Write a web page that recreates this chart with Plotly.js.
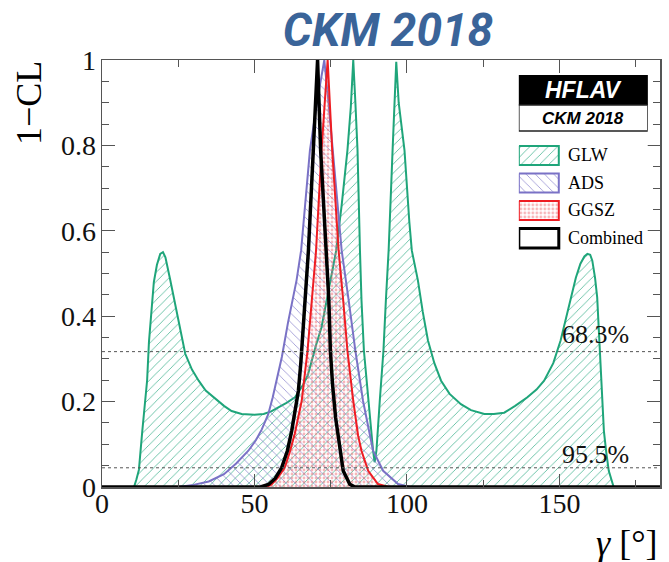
<!DOCTYPE html>
<html>
<head>
<meta charset="utf-8">
<script src="https://cdn.plot.ly/plotly-3.0.1.min.js"></script>
<style>
  html, body { margin: 0; padding: 0; background: #ffffff; }
  #chart { width: 669px; height: 562px; }
</style>
</head>
<body>
<div id="chart"></div>
<script>
// 1-CL profile scans in gamma [deg] for each method and their combination
const gammaGLW = [0, 10.5, 11.3, 12.1, 13.2, 14.3, 14.8, 15.4, 16.2, 17, 18, 19.1, 20, 20.8, 22.4, 24.6, 27.3, 29.5, 31.7, 34, 37.1, 40, 42.5, 45.8, 50, 53, 55.5, 57.8, 60.5, 63.3, 64.4, 66, 67.5, 68.7, 70.3, 72, 73.2, 74.2, 75.5, 76.8, 78.6, 80.5, 81.6, 82.4, 83.1, 83.8, 84.6, 85.1, 85.9, 87.3, 88.9, 89.4, 90, 91.1, 92.3, 93.1, 94, 95.3, 96, 96.5, 97.3, 98.2, 99.2, 100.8, 101.6, 103.6, 105.2, 106.9, 109, 111.2, 114, 117.7, 121, 125.4, 128.5, 131.9, 135.5, 139.5, 142.5, 145, 148, 150.4, 152, 153.7, 155.4, 156.9, 158.2, 159.2, 160.1, 160.8, 161.7, 162.4, 163, 163.5, 164.6, 165.4, 166.2, 167.8, 183];
const clGLW    = [0, 0, 0.018, 0.04, 0.13, 0.21, 0.25, 0.34, 0.42, 0.48, 0.52, 0.546, 0.55, 0.538, 0.484, 0.406, 0.312, 0.275, 0.249, 0.226, 0.207, 0.19, 0.178, 0.171, 0.169, 0.171, 0.177, 0.186, 0.197, 0.21, 0.222, 0.24, 0.262, 0.296, 0.335, 0.374, 0.42, 0.46, 0.505, 0.554, 0.66, 0.789, 0.89, 1.0, 0.9, 0.789, 0.554, 0.437, 0.319, 0.202, 0.085, 0.058, 0.085, 0.202, 0.319, 0.437, 0.554, 0.789, 0.9, 0.996, 0.9, 0.84, 0.789, 0.62, 0.554, 0.484, 0.41, 0.343, 0.29, 0.249, 0.218, 0.194, 0.18, 0.171, 0.171, 0.174, 0.19, 0.21, 0.228, 0.249, 0.29, 0.343, 0.39, 0.444, 0.49, 0.523, 0.54, 0.546, 0.544, 0.53, 0.49, 0.444, 0.36, 0.288, 0.131, 0.08, 0.038, 0, 0];

const gammaADS = [0, 25, 30, 35, 40, 44, 48, 50.5, 52.4, 54.5, 56, 57.5, 59, 61, 63.8, 65.3, 66.8, 68.2, 70.5, 72.9, 74.3, 75.6, 77, 78.6, 80.9, 83.1, 85.6, 87.6, 88.9, 92.2, 97.1, 101, 183];
const clADS    = [0, 0, 0.005, 0.013, 0.03, 0.055, 0.085, 0.11, 0.135, 0.17, 0.21, 0.255, 0.305, 0.385, 0.484, 0.554, 0.67, 0.789, 0.9, 1.0, 0.9, 0.789, 0.67, 0.554, 0.437, 0.319, 0.202, 0.13, 0.085, 0.038, 0.007, 0, 0];

const gammaGGSZ = [0, 54, 55.6, 57.5, 59.9, 61.5, 63.2, 65.5, 67.4, 68.7, 70.2, 72, 74, 75.5, 77.6, 79.1, 80.5, 82.4, 84, 85.1, 87.3, 90.5, 94, 183];
const clGGSZ    = [0, 0, 0.006, 0.02, 0.045, 0.08, 0.124, 0.202, 0.319, 0.437, 0.554, 0.789, 1.0, 0.789, 0.554, 0.437, 0.319, 0.202, 0.12, 0.085, 0.038, 0.007, 0, 0];

const gammaComb = [0, 52, 54.6, 56.8, 58.9, 60.8, 62.2, 63.5, 64.4, 65.2, 66.3, 67.7, 69.3, 70.7, 71.7, 72.6, 73.5, 74.4, 74.9, 75.6, 76.6, 78, 79.1, 81.3, 83, 183];
const clComb    = [0, 0, 0.006, 0.02, 0.045, 0.085, 0.131, 0.19, 0.225, 0.29, 0.4, 0.554, 0.789, 1.0, 0.789, 0.67, 0.554, 0.437, 0.319, 0.241, 0.163, 0.085, 0.038, 0.006, 0, 0];

// confidence levels marked with dotted lines (in percent)
const clLevels = [68.3, 95.5];
const seriesNames = ['GLW', 'ADS', 'GGSZ', 'Combined'];

const serif = 'Liberation Serif, Times New Roman, serif';
const sans = 'Liberation Sans, Arial, sans-serif';

const GREEN = '#1fa57a', PURPLE = '#7a72c6', RED = '#ee1d23', BLACK = '#000000';

const patterns = {
  GLW:  { shape: '/', fgcolor: 'rgba(31,165,122,0.75)', bgcolor: 'rgba(0,0,0,0)', size: 6.5, solidity: 0.13 },
  ADS:  { shape: '\\', fgcolor: 'rgba(122,114,198,0.75)', bgcolor: 'rgba(0,0,0,0)', size: 6.5, solidity: 0.13 },
  GGSZ: { shape: '.', fgcolor: 'rgba(240,110,115,0.5)', bgcolor: 'rgba(0,0,0,0)', size: 4, solidity: 0.4 }
};

function scan(name, x, y, color, width, pattern) {
  const t = {
    type: 'scatter', mode: 'lines', name: name, x: x, y: y,
    line: { color: color, width: width, shape: 'linear' },
    showlegend: false, hoverinfo: 'x+y+name'
  };
  if (pattern) {
    t.fill = 'tozeroy';
    t.fillcolor = 'rgba(0,0,0,0)';
    t.fillpattern = pattern;
  }
  return t;
}

const traces = [
  scan(seriesNames[0], gammaGLW, clGLW, GREEN, 2, patterns.GLW),
  scan(seriesNames[1], gammaADS, clADS, PURPLE, 2, patterns.ADS),
  scan(seriesNames[2], gammaGGSZ, clGGSZ, RED, 2, patterns.GGSZ),
  scan(seriesNames[3], gammaComb, clComb, BLACK, 3.5, null)
];

// legend box drawn in its own small coordinate frame (pixels from its top-left)
const legRows = [
  { name: seriesNames[0], y0: 71, y1: 90, color: GREEN, pattern: patterns.GLW },
  { name: seriesNames[1], y0: 98.5, y1: 117.5, color: PURPLE, pattern: patterns.ADS },
  { name: seriesNames[2], y0: 126, y1: 145, color: RED, pattern: patterns.GGSZ },
  { name: seriesNames[3], y0: 153.5, y1: 173, color: BLACK, pattern: null }
];
const swW = 40;

const shapes = [];
const annotations = [];

legRows.forEach(r => {
  if (r.pattern) {
    traces.push({
      type: 'scatter', mode: 'lines', xaxis: 'x2', yaxis: 'y2',
      x: [0, swW, swW, 0, 0], y: [r.y0, r.y0, r.y1, r.y1, r.y0],
      fill: 'toself', fillcolor: 'rgba(0,0,0,0)', fillpattern: r.pattern,
      line: { color: r.color, width: 2 }, showlegend: false, hoverinfo: 'skip'
    });
  } else {
    shapes.push({ type: 'rect', xref: 'x2', yref: 'y2', x0: 0, x1: swW, y0: r.y0, y1: r.y1,
      line: { color: r.color, width: 3 }, fillcolor: '#ffffff' });
  }
  annotations.push({ xref: 'x2', yref: 'y2', x: 47, y: (r.y0 + r.y1) / 2, xanchor: 'left', yanchor: 'middle',
    text: r.name, showarrow: false, font: { family: serif, size: 18, color: '#000' } });
});

// HFLAV badge
shapes.push({ type: 'rect', xref: 'x2', yref: 'y2', x0: 0, x1: 129, y0: 0, y1: 30,
  line: { color: '#000', width: 1.5 }, fillcolor: '#000' });
shapes.push({ type: 'rect', xref: 'x2', yref: 'y2', x0: 0, x1: 129, y0: 30, y1: 56,
  line: { color: '#222', width: 1.5 }, fillcolor: '#fff' });
annotations.push({ xref: 'x2', yref: 'y2', x: 64.5, y: 15.5, text: '<b><i>HFLAV</i></b>', showarrow: false,
  xanchor: 'center', yanchor: 'middle', font: { family: sans, size: 23, color: '#fff' } });
annotations.push({ xref: 'x2', yref: 'y2', x: 64.5, y: 43.5, text: '<b><i>CKM 2018</i></b>', showarrow: false,
  xanchor: 'center', yanchor: 'middle', font: { family: sans, size: 17, color: '#000' } });

// dotted confidence-level lines with their labels
const labelOffset = [0.039, 0.032];
clLevels.forEach((lv, i) => {
  const yv = 1 - lv / 100;
  shapes.push({ type: 'line', xref: 'paper', yref: 'y', x0: 0, x1: 1, y0: yv, y1: yv,
    line: { color: '#555', width: 1, dash: 'dot' } });
  annotations.push({ xref: 'x', yref: 'y', x: 173.6, y: yv + labelOffset[i], xanchor: 'right', yanchor: 'middle',
    text: lv.toFixed(1) + '%', showarrow: false, font: { family: serif, size: 26, color: '#111' } });
});

// axis titles
annotations.push({ xref: 'paper', yref: 'paper', x: -0.131, y: 0.899, xanchor: 'center', yanchor: 'middle',
  textangle: -90, text: '1\u2212CL', showarrow: false, font: { family: serif, size: 36, color: '#000' } });
annotations.push({ xref: 'paper', yref: 'paper', x: 1.0, y: -0.131, xanchor: 'right', yanchor: 'middle',
  text: '<i>\u03b3</i> [\u00b0]', showarrow: false, font: { family: serif, size: 36, color: '#000' } });

const axisCommon = {
  ticks: 'inside', ticklen: 13, tickwidth: 1, tickcolor: '#555',
  showline: true, linecolor: '#555', linewidth: 1.5, mirror: 'ticks',
  showgrid: false, zeroline: false,
  tickfont: { family: serif, size: 28, color: '#111' }
};

const layout = {
  width: 669, height: 562,
  margin: { l: 102, r: 9, t: 60, b: 75 },
  paper_bgcolor: '#ffffff', plot_bgcolor: '#ffffff',
  title: {
    text: '<b><i>CKM 2018</i></b>',
    font: { family: 'Roboto, Open Sans, sans-serif', size: 46, color: '#3a6499' },
    xref: 'container', x: 0.58, xanchor: 'center',
    yref: 'container', y: 0.947, yanchor: 'middle'
  },
  xaxis: Object.assign({}, axisCommon, {
    range: [0, 183], tick0: 0, dtick: 50, ticklabelstandoff: -9,
    minor: { dtick: 25, ticks: 'inside', ticklen: 7, tickcolor: '#555', showgrid: false }
  }),
  yaxis: Object.assign({}, axisCommon, {
    range: [0, 1], tick0: 0, dtick: 0.2, ticklabelstandoff: -1,
    minor: { dtick: 0.05, ticks: 'inside', ticklen: 7, tickcolor: '#555', showgrid: false }
  }),
  xaxis2: { domain: [0.747, 0.978], range: [0, 129], visible: false, fixedrange: true, anchor: 'y2' },
  yaxis2: { domain: [0.555, 0.965], range: [175, 0], visible: false, fixedrange: true, anchor: 'x2' },
  shapes: shapes,
  annotations: annotations,
  showlegend: false
};

Plotly.newPlot('chart', traces, layout, { displayModeBar: false, staticPlot: true });
</script>
</body>
</html>
